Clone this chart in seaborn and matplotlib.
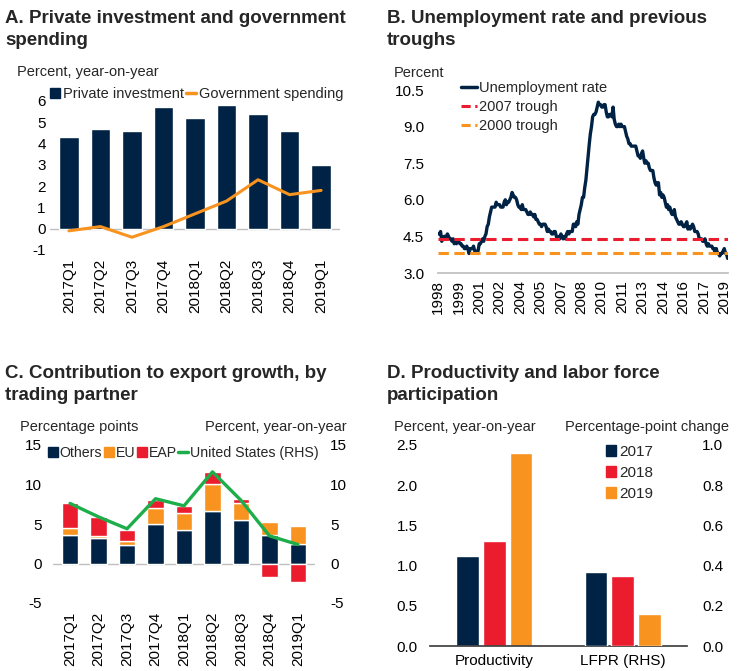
import numpy as np
import pandas as pd
import matplotlib
matplotlib.use("Agg")
import matplotlib.pyplot as plt
import seaborn as sns
from matplotlib.patches import Patch
from matplotlib.lines import Line2D

# -----------------------------
# Data
# -----------------------------
quarters = ["2017Q1", "2017Q2", "2017Q3", "2017Q4", "2018Q1",
            "2018Q2", "2018Q3", "2018Q4", "2019Q1"]

# A. private investment / government spending
private_inv = [4.3, 4.7, 4.6, 5.7, 5.2, 5.8, 5.4, 4.6, 3.0]
gov_spend = [-0.1, 0.1, -0.4, 0.1, 0.7, 1.3, 2.3, 1.6, 1.8]

# B. unemployment rate, monthly Jan 1998 - Apr 2019
unemp = [
    4.6, 4.6, 4.7, 4.3, 4.4, 4.5, 4.5, 4.5, 4.6, 4.5, 4.4, 4.4,   # 1998
    4.3, 4.4, 4.2, 4.3, 4.2, 4.3, 4.3, 4.2, 4.2, 4.1, 4.1, 4.0,   # 1999
    4.0, 4.1, 4.0, 3.8, 4.0, 4.0, 4.0, 4.1, 3.9, 3.9, 3.9, 3.9,   # 2000
    4.2, 4.2, 4.3, 4.4, 4.3, 4.5, 4.6, 4.9, 5.0, 5.3, 5.5, 5.7,   # 2001
    5.7, 5.7, 5.7, 5.9, 5.8, 5.8, 5.8, 5.7, 5.7, 5.7, 5.9, 6.0,   # 2002
    5.8, 5.9, 5.9, 6.0, 6.1, 6.3, 6.2, 6.1, 6.1, 6.0, 5.8, 5.7,   # 2003
    5.7, 5.6, 5.8, 5.6, 5.6, 5.6, 5.5, 5.4, 5.4, 5.5, 5.4, 5.4,   # 2004
    5.3, 5.4, 5.2, 5.2, 5.1, 5.0, 5.0, 4.9, 5.0, 5.0, 5.0, 4.9,   # 2005
    4.7, 4.8, 4.7, 4.7, 4.6, 4.6, 4.7, 4.7, 4.5, 4.4, 4.5, 4.4,   # 2006
    4.6, 4.5, 4.4, 4.5, 4.4, 4.6, 4.7, 4.6, 4.7, 4.7, 4.7, 5.0,   # 2007
    5.0, 4.9, 5.1, 5.0, 5.4, 5.6, 5.8, 6.1, 6.1, 6.5, 6.8, 7.3,   # 2008
    7.8, 8.3, 8.7, 9.0, 9.4, 9.5, 9.5, 9.6, 9.8, 10.0, 9.9, 9.9,  # 2009
    9.8, 9.8, 9.9, 9.9, 9.6, 9.4, 9.4, 9.5, 9.5, 9.4, 9.8, 9.3,   # 2010
    9.1, 9.0, 9.0, 9.1, 9.0, 9.1, 9.0, 9.0, 9.0, 8.8, 8.6, 8.5,   # 2011
    8.3, 8.3, 8.2, 8.2, 8.2, 8.2, 8.2, 8.0, 7.8, 7.8, 7.7, 7.9,   # 2012
    8.0, 7.7, 7.5, 7.6, 7.5, 7.5, 7.3, 7.2, 7.2, 7.2, 6.9, 6.7,   # 2013
    6.6, 6.7, 6.7, 6.2, 6.3, 6.1, 6.2, 6.1, 5.9, 5.7, 5.8, 5.6,   # 2014
    5.7, 5.5, 5.4, 5.4, 5.6, 5.3, 5.2, 5.1, 5.0, 5.0, 5.1, 5.0,   # 2015
    4.9, 4.9, 5.0, 5.1, 4.8, 4.9, 4.8, 4.9, 5.0, 4.9, 4.7, 4.7,   # 2016
    4.7, 4.6, 4.4, 4.4, 4.4, 4.3, 4.3, 4.4, 4.2, 4.1, 4.2, 4.1,   # 2017
    4.1, 4.1, 4.0, 4.0, 3.8, 4.0, 3.8, 3.8, 3.7, 3.8, 3.8, 3.9,   # 2018
    4.0, 3.8, 3.8, 3.6,                                           # 2019
]
trough_2007 = 4.4
trough_2000 = 3.8

# C. contribution to export growth
others = [3.6, 3.2, 2.3, 5.0, 4.3, 6.6, 5.5, 3.6, 2.5]
eu = [0.9, 0.3, 0.6, 2.0, 2.1, 3.4, 2.2, 1.6, 2.3]
eap = [3.2, 2.4, 1.4, 1.1, 0.9, 1.6, 0.5, -1.7, -2.4]
us_rhs = [7.6, 5.9, 4.4, 8.2, 7.3, 11.6, 8.0, 3.5, 2.4]

# D. productivity and LFPR
years = ["2017", "2018", "2019"]
d_cats = ["Productivity", "LFPR (RHS)"]
productivity = [1.12, 1.31, 2.40]
lfpr = [0.37, 0.35, 0.16]

# -----------------------------
# Style
# -----------------------------
sns.set_theme(style="white")
plt.rcParams["font.family"] = ["Liberation Sans", "DejaVu Sans"]
plt.rcParams["axes.facecolor"] = "white"
plt.rcParams["axes.unicode_minus"] = False

NAVY = "#002345"
ORANGE = "#F7931E"
RED = "#EB1C2D"
GREEN = "#1DAE4B"
GRAY = "#BFBFBF"
TICK_FS = 11
LAB_FS = 10.5
TITLE_FS = 13.5

W, H = 741, 671
fig = plt.figure(figsize=(W / 100, H / 100), dpi=100)


def px_axes(left, top, right, bottom):
    return fig.add_axes([left / W, 1 - bottom / H, (right - left) / W, (bottom - top) / H])


def clean(ax):
    for s in ax.spines.values():
        s.set_visible(False)
    ax.tick_params(length=0, labelsize=TICK_FS, colors="black")
    ax.set_xlabel("")
    ax.set_ylabel("")


def title(x, y, txt):
    fig.text(x / W, 1 - y / H, txt, fontsize=TITLE_FS, fontweight="bold",
             va="top", ha="left", linespacing=1.35)


def label(x, y, txt, ha="left"):
    fig.text(x / W, 1 - y / H, txt, fontsize=LAB_FS, va="center", ha=ha)


# -----------------------------
# A. Private investment and government spending
# -----------------------------
axA = px_axes(50, 101, 340, 250)
dfA = pd.DataFrame({"q": quarters, "inv": private_inv, "gov": gov_spend})
sns.barplot(data=dfA, x="q", y="inv", color=NAVY, width=0.62, ax=axA, saturation=1)
sns.lineplot(x=np.arange(len(quarters)), y=dfA["gov"], color=ORANGE, lw=2.2, ax=axA)
axA.axhline(0, color=GRAY, lw=1, zorder=0)
axA.set_ylim(-1, 6)
axA.set_xlim(-0.6, 8.6)
axA.set_yticks(range(-1, 7))
clean(axA)
axA.tick_params(axis="x", rotation=90, pad=6)
axA.tick_params(axis="y", pad=3)
axA.legend(handles=[Patch(color=NAVY, label="Private investment"),
                    Line2D([], [], color=ORANGE, lw=2.5, label="Government spending")],
           ncol=2, frameon=False, fontsize=LAB_FS, loc="lower left",
           bbox_to_anchor=(-0.02, 0.96), handlelength=0.7, handletextpad=0.2,
           columnspacing=0.1, borderaxespad=0)
title(5, 10, "A. Private investment and government\nspending")
label(17, 72, "Percent, year-on-year")

# -----------------------------
# B. Unemployment rate and previous troughs
# -----------------------------
axB = px_axes(438, 90, 728, 273)
dates = pd.date_range("1998-01-01", periods=len(unemp), freq="MS")
sns.lineplot(x=dates, y=unemp, color=NAVY, lw=2.4, ax=axB)
axB.axhline(trough_2007, color=RED, lw=2.2, dashes=(3.4, 1.8))
axB.axhline(trough_2000, color=ORANGE, lw=2.2, dashes=(3.4, 1.8))
axB.set_ylim(3.0, 10.5)
axB.set_yticks([3.0, 4.5, 6.0, 7.5, 9.0, 10.5])
axB.set_yticklabels(["3.0", "4.5", "6.0", "7.5", "9.0", "10.5"])
axB.set_xlim(dates[0] - pd.Timedelta(days=10), dates[-1] + pd.Timedelta(days=10))
xt = pd.date_range("1998-01-01", "2019-01-01", freq="18MS")
axB.set_xticks(xt)
axB.set_xticklabels([str(d.year) for d in xt])
clean(axB)
axB.spines["bottom"].set_visible(True)
axB.spines["bottom"].set_color(GRAY)
axB.tick_params(axis="x", rotation=90, pad=5)
axB.tick_params(axis="y", pad=10)
axB.legend(handles=[Line2D([], [], color=NAVY, lw=2.5, label="Unemployment rate"),
                    Line2D([], [], color=RED, lw=2.2, dashes=(3, 1.5), label="2007 trough"),
                    Line2D([], [], color=ORANGE, lw=2.2, dashes=(3, 1.5), label="2000 trough")],
           frameon=False, fontsize=LAB_FS, loc="upper left",
           bbox_to_anchor=(0.06, 1.08), handlelength=1.1, handletextpad=0.1,
           labelspacing=0.35, borderaxespad=0)
title(387, 10, "B. Unemployment rate and previous\ntroughs")
label(394, 73, "Percent")

# -----------------------------
# C. Contribution to export growth
# -----------------------------
axC = px_axes(53, 445, 315, 603)
x = np.arange(len(quarters))
others_a = np.array(others)
eu_a = np.array(eu)
eap_a = np.array(eap)
eap_bottom = np.where(eap_a >= 0, others_a + eu_a, 0)
bw = 0.58
axC.bar(x, others_a, width=bw, color=NAVY)
axC.bar(x, eu_a, bottom=others_a, width=bw, color=ORANGE)
axC.bar(x, eap_a, bottom=eap_bottom, width=bw, color=RED)
axC.axhline(0, color=GRAY, lw=1, zorder=0)
axC.set_ylim(-5, 15)
axC.set_yticks([-5, 0, 5, 10, 15])
axC.set_xlim(-0.6, 8.6)
axC.set_xticks(x)
axC.set_xticklabels(quarters)
axC2 = axC.twinx()
sns.lineplot(x=x, y=us_rhs, color=GREEN, lw=2.4, ax=axC2)
axC2.set_ylim(-5, 15)
axC2.set_yticks([-5, 0, 5, 10, 15])
clean(axC)
clean(axC2)
axC.tick_params(axis="x", rotation=90, pad=6)
axC.tick_params(axis="y", pad=8)
axC2.tick_params(axis="y", pad=11)
axC.legend(handles=[Patch(color=NAVY, label="Others"),
                    Patch(color=ORANGE, label="EU"),
                    Patch(color=RED, label="EAP"),
                    Line2D([], [], color=GREEN, lw=2.5, label="United States (RHS)")],
           ncol=4, frameon=False, fontsize=10.2, loc="center left",
           bbox_to_anchor=(-0.04, 0.95), handlelength=0.7, handletextpad=0.12,
           columnspacing=0.12, borderaxespad=0)
title(5, 365, "C. Contribution to export growth, by\ntrading partner")
label(20, 427, "Percentage points")
label(347, 427, "Percent, year-on-year", ha="right")

# -----------------------------
# D. Productivity and labor force participation
# -----------------------------
axD = px_axes(430, 445, 687, 646)
dfP = pd.DataFrame({"cat": "Productivity", "year": years, "val": productivity})
dfL = pd.DataFrame({"cat": "LFPR (RHS)", "year": years, "val": lfpr})
pal = dict(zip(years, [NAVY, RED, ORANGE]))
sns.barplot(data=dfP, x="cat", y="val", hue="year", order=d_cats, hue_order=years,
            palette=pal, width=0.62, gap=0.15, saturation=1, ax=axD, legend=False)
axD2 = axD.twinx()
sns.barplot(data=dfL, x="cat", y="val", hue="year", order=d_cats, hue_order=years,
            palette=pal, width=0.62, gap=0.15, saturation=1, ax=axD2, legend=False)
axD.set_ylim(0, 2.5)
axD.set_yticks([0, 0.5, 1.0, 1.5, 2.0, 2.5])
axD.set_yticklabels(["0.0", "0.5", "1.0", "1.5", "2.0", "2.5"])
axD2.set_ylim(0, 1.0)
axD2.set_yticks([0, 0.2, 0.4, 0.6, 0.8, 1.0])
axD2.set_yticklabels(["0.0", "0.2", "0.4", "0.6", "0.8", "1.0"])
axD.set_xlim(-0.5, 1.5)
clean(axD)
clean(axD2)
axD.spines["bottom"].set_visible(True)
axD.spines["bottom"].set_color("#404040")
axD.tick_params(axis="x", pad=6)
axD.tick_params(axis="y", pad=9)
axD2.tick_params(axis="y", pad=11)
axD.legend(handles=[Patch(color=pal[y], label=y) for y in years],
           frameon=False, fontsize=TICK_FS, loc="upper left",
           bbox_to_anchor=(0.66, 1.03), handlelength=0.7, handletextpad=0.2,
           labelspacing=0.45, borderaxespad=0)
title(387, 365, "D. Productivity and labor force\nparticipation")
label(394, 427, "Percent, year-on-year")
label(729, 427, "Percentage-point change", ha="right")

fig.savefig("out.png", dpi=100)
